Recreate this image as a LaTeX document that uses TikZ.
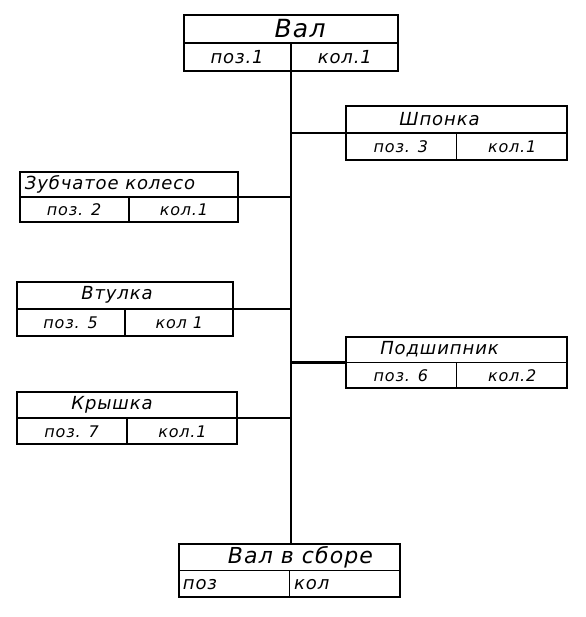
\documentclass[tikz,border=0pt]{standalone}
\usepackage{fontspec}
\setmainfont{DejaVu Sans}
\newfontfamily\cardfont[LetterSpace=5]{DejaVu Sans}
\usetikzlibrary{calc}

\tikzset{
  card/.style={draw, line width=1.5pt, inner sep=0pt},
  cardtext/.style={inner sep=0pt, font=\cardfont\itshape\fontsize{16}{16}\selectfont},
  cardname/.style={cardtext, font=\cardfont\itshape\fontsize{18}{18}\selectfont},
  link/.style={line width=2.8pt},
}

% box with title row and two cells: [title shift]{name}{centre}{width}{height}{title}{poz}{kol}
\newcommand{\card}[8][0pt]{%
  \node[card, minimum width=#4, minimum height=#5] (#2) at (#3) {};
  \draw[line width=1.5pt] (#2.west) -- (#2.east) (#2.center) -- (#2.south);
  \node[cardname, xshift=#1] (#2-name) at ($(#2.north)!0.5!(#2.center)$) {#6};
  \node[cardtext] (#2-poz) at ($(#2.south west)!0.5!(#2.center)$) {#7};
  \node[cardtext] (#2-kol) at ($(#2.south east)!0.5!(#2.center)$) {#8};
}
\newcommand{\bigtext}{\fontsize{18}{18}\selectfont}

\begin{document}
\begin{tikzpicture}[x=1pt, y=-1pt]

    \useasboundingbox (0,0) rectangle (585,617);

    % Shaft on top, assembly at the bottom
    \card[9pt]{val}{291,43}{214pt}{56pt}{\fontsize{25}{25}\selectfont Вал}{\bigtext поз.1}{\bigtext кол.1}
    \card[11pt]{sborka}{289.5,570.5}{221pt}{53pt}{\fontsize{22}{22}\selectfont Вал в сборе}%
        {\makebox[102pt][l]{\bigtext поз}}{\makebox[102pt][l]{\bigtext кол}}

    % Parts on the right
    \card[-17pt]{shponka}{456.5,133}{221pt}{54pt}{Шпонка}{поз. 3}{кол.1}
    \card[-17pt]{podsh}{456.5,362.5}{221pt}{51pt}{Подшипник}{поз. 6}{кол.2}

    % Parts on the left
    \card[-19pt]{koleso}{129,197}{218pt}{50pt}{Зубчатое колесо}{поз. 2}{кол.1}
    \card[-8pt]{vtulka}{125,309}{216pt}{54pt}{Втулка}{поз. 5}{кол 1}
    \card[-15pt]{kryshka}{127,418}{220pt}{52pt}{Крышка}{поз. 7}{кол.1}

    % Main line
    \draw[link] (val.south) -- (val.south |- sborka.north);

    % Branches
    \draw[link] (shponka.west) -- (shponka.west -| val.south);
    \draw[link] (podsh.west) -- (podsh.west -| val.south);
    \draw[link] (koleso.east) -- (koleso.east -| val.south);
    \draw[link] (vtulka.east) -- (vtulka.east -| val.south);
    \draw[link] (kryshka.east) -- (kryshka.east -| val.south);

\end{tikzpicture}
\end{document}
